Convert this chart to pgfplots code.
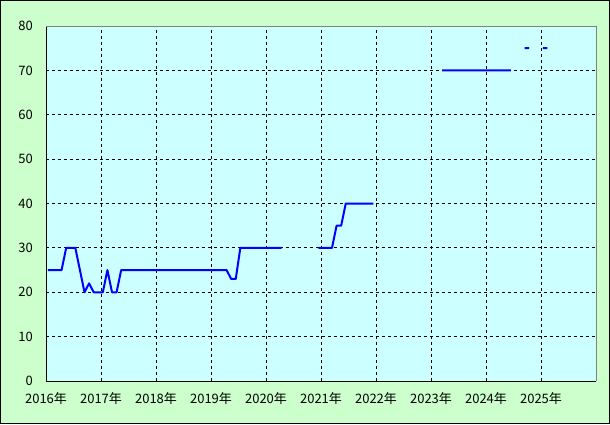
\documentclass[border=0pt]{standalone}
\usepackage{fontspec}
\setmainfont{Noto Sans CJK JP}
\usepackage{pgfplots}
\pgfplotsset{compat=1.18}
\definecolor{outerbg}{HTML}{CCFFCC}
\definecolor{innerbg}{HTML}{CCFFFF}
\definecolor{axgray}{HTML}{808080}
\begin{document}
\begin{tikzpicture}
\fill[outerbg] (0,0) rectangle (610pt,424pt);
\draw[black,line width=1pt] (0.5pt,0.5pt) rectangle (609.5pt,423.5pt);
\begin{axis}[
  at={(46pt,43pt)}, anchor=south west,
  scale only axis, width=550pt, height=355pt,
  xmin=-0.4, xmax=119.6, ymin=0, ymax=80,
  xtick={-0.4,11.6,23.6,35.6,47.6,59.6,71.6,83.6,95.6,107.6},
  xticklabels={2016年,2017年,2018年,2019年,2020年,2021年,2022年,2023年,2024年,2025年},
  ytick={0,10,...,80},
  /pgf/number format/assume math mode=true,
  major tick length=0pt,
  grid=major,
  major grid style={black, line width=0.9pt, dash pattern=on 3pt off 3pt},
  axis background/.style={fill=innerbg},
  axis x line*=bottom, axis y line*=left,
  axis line style={black, line width=1pt},
  tick label style={font=\fontsize{13}{13}\selectfont},
  yticklabel style={anchor=east, inner sep=0pt, xshift=-13pt},
  xticklabel style={anchor=base, inner sep=0pt, yshift=-22.5pt},
  unbounded coords=jump,
  clip=false,
]
\addplot[blue, line width=2pt, line join=round] coordinates {
(0,25) (1,25) (2,25) (3,25) (4,30) (5,30) (6,30) (7,25) (8,20) (9,22)
(10,20) (11,20) (12,20) (13,25) (14,20) (15,20) (16,25) (17,25) (18,25) (19,25)
(20,25) (21,25) (22,25) (23,25) (24,25) (25,25) (26,25) (27,25) (28,25) (29,25)
(30,25) (31,25) (32,25) (33,25) (34,25) (35,25) (36,25) (37,25) (38,25) (39,25)
(40,23) (41,23) (42,30) (43,30) (44,30) (45,30) (46,30) (47,30) (48,30) (49,30)
(50,30) (51,30) (52,nan)
(59,30) (60,30) (61,30) (62,30) (63,35) (64,35) (65,40) (66,40) (67,40) (68,40)
(69,40) (70,40) (71,40) (72,nan)
(86,70) (87,70) (88,70) (89,70) (90,70) (91,70) (92,70) (93,70) (94,70) (95,70)
(96,70) (97,70) (98,70) (99,70) (100,70) (101,70) (102,nan)
(104,75) (105,75) (106,nan)
(108,75) (109,75)
};
\draw[axgray, line width=1pt] (rel axis cs:0,1) -- (rel axis cs:1,1) -- (rel axis cs:1,0);
\end{axis}
\end{tikzpicture}
\end{document}
